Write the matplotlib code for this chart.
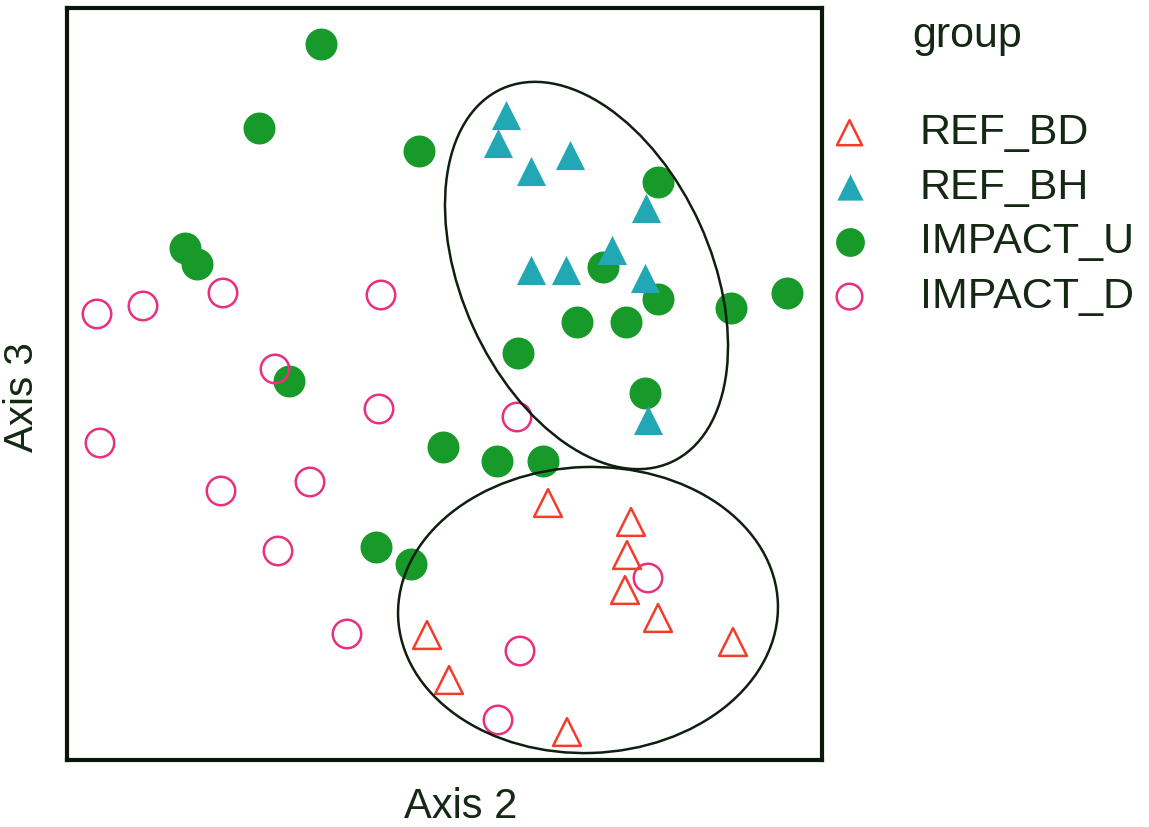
import matplotlib
matplotlib.use("Agg")
import matplotlib.pyplot as plt
from matplotlib.patches import Ellipse

plt.rcParams["font.family"] = ["Liberation Sans", "DejaVu Sans"]

# ordination scores (axis 2, axis 3), arbitrary units
ref_bd_x = [548, 631, 627, 625, 658, 733, 427, 449, 567]
ref_bd_y = [297, 278, 245, 210, 182, 158, 165, 120, 68]

ref_bh_x = [506, 498, 570, 531, 646, 612, 531, 566, 645, 648]
ref_bh_y = [685, 657, 645, 629, 592, 550, 530, 530, 522, 380]

impact_u_x = [321, 259, 419, 658, 185, 197, 603, 658, 731, 787,
              577, 626, 518, 645, 289, 443, 497, 543, 376, 411]
impact_u_y = [756, 672, 649, 618, 552, 536, 533, 501, 492, 507,
              478, 478, 447, 407, 419, 353, 339, 339, 253, 236]

impact_d_x = [97, 143, 223, 381, 275, 379, 517, 100, 221, 310,
              278, 347, 520, 498, 648]
impact_d_y = [486, 494, 507, 505, 431, 391, 383, 357, 309, 318,
              249, 166, 149, 80, 222]

# confidence ellipses: centre, width, height, angle
ellipses = [
    ((586.5, 524.5), 249, 410, 24.4),
    ((588, 190), 380, 286, 2),
]

TEXT_COLOR = "#142814"
W, H = 1149, 827

fig = plt.figure(figsize=(W / 100, H / 100), dpi=100)
ax = fig.add_axes([67 / W, 67 / H, 755 / W, 752 / H])

ax.scatter(impact_d_x, impact_d_y, s=420, marker="o", facecolors="none",
           edgecolors="#e8307f", linewidths=1.8, label="IMPACT_D", zorder=3)
ax.scatter(impact_u_x, impact_u_y, s=530, marker="o", color="#179a2a",
           linewidths=0, label="IMPACT_U", zorder=2)
ax.scatter(ref_bh_x, ref_bh_y, s=440, marker="^", color="#22a8b4",
           linewidths=0, label="REF_BH", zorder=2)
ax.scatter(ref_bd_x, ref_bd_y, s=400, marker="^", facecolors="none",
           edgecolors="#f23c2c", linewidths=1.8, label="REF_BD", zorder=3)

for (cx, cy), w, h, ang in ellipses:
    ax.add_patch(Ellipse((cx, cy), w, h, angle=ang, fill=False,
                         edgecolor="#0f1f0f", linewidth=1.8, zorder=4))

ax.set_xlim(67, 822)
ax.set_ylim(40, 792)
ax.set_xticks([])
ax.set_yticks([])
for sp in ax.spines.values():
    sp.set_linewidth(3)
    sp.set_color("#0a180a")

fig.text(461 / W, 1 - 818 / H, "Axis 2", ha="center", va="baseline",
         fontsize=30, color=TEXT_COLOR)
fig.text(22 / W, 1 - 397 / H, "Axis 3", ha="center", va="center",
         rotation=90, fontsize=29, color=TEXT_COLOR)
fig.text(912 / W, 1 - 47 / H, "group", ha="left", va="baseline",
         fontsize=31, color=TEXT_COLOR)

handles, labels = ax.get_legend_handles_labels()
order = ["REF_BD", "REF_BH", "IMPACT_U", "IMPACT_D"]
hmap = dict(zip(labels, handles))
leg = fig.legend([hmap[k] for k in order], order, loc="upper left",
                 bbox_to_anchor=(828 / W, 1 - 113 / H), frameon=False,
                 fontsize=31, handlelength=1.0, handletextpad=1.13,
                 labelspacing=0.34, markerscale=0.9, borderaxespad=0,
                 borderpad=0)
for t in leg.get_texts():
    t.set_color(TEXT_COLOR)

fig.savefig("out.png", dpi=100)
